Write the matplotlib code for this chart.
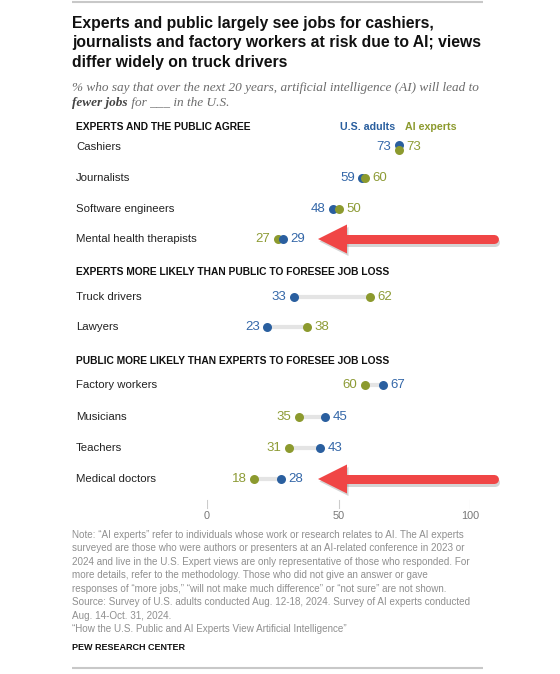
import matplotlib
matplotlib.use("Agg")
import matplotlib.pyplot as plt
from matplotlib.patches import Polygon

# ---------------- data ----------------
sections = [
    "EXPERTS AND THE PUBLIC AGREE",
    "EXPERTS MORE LIKELY THAN PUBLIC TO FORESEE JOB LOSS",
    "PUBLIC MORE LIKELY THAN EXPERTS TO FORESEE JOB LOSS",
]
categories = [
    "Cashiers", "Journalists", "Software engineers", "Mental health therapists",
    "Truck drivers", "Lawyers",
    "Factory workers", "Musicians", "Teachers", "Medical doctors",
]
us_adults = [73, 59, 48, 29, 33, 23, 67, 45, 43, 28]
ai_experts = [73, 60, 50, 27, 62, 38, 60, 35, 31, 18]
x_ticks = [0, 50, 100]
series_names = ["U.S. adults", "AI experts"]
highlighted = ["Mental health therapists", "Medical doctors"]

title_lines = [
    "Experts and public largely see jobs for cashiers,",
    "journalists and factory workers at risk due to AI; views",
    "differ widely on truck drivers",
]
subtitle_1 = "% who say that over the next 20 years, artificial intelligence (AI) will lead to"
subtitle_2a = "fewer jobs"
subtitle_2b = " for ___ in the U.S."
note_lines = [
    "Note: \u201cAI experts\u201d refer to individuals whose work or research relates to AI. The AI experts",
    "surveyed are those who were authors or presenters at an AI-related conference in 2023 or",
    "2024 and live in the U.S. Expert views are only representative of those who responded. For",
    "more details, refer to the methodology. Those who did not give an answer or gave",
    "responses of \u201cmore jobs,\u201d \u201cwill not make much difference\u201d or \u201cnot sure\u201d are not shown.",
    "Source: Survey of U.S. adults conducted Aug. 12-18, 2024. Survey of AI experts conducted",
    "Aug. 14-Oct. 31, 2024.",
    "\u201cHow the U.S. Public and AI Experts View Artificial Intelligence\u201d",
]
source_label = "PEW RESEARCH CENTER"

# ---------------- layout / style ----------------
W, H = 560, 674
BLUE = "#2a5f9f"
GREEN = "#8c9a2e"
BLUE_TXT = "#3467a8"
GREEN_TXT = "#8d9b35"
RED = "#f04646"
SANS = ["Liberation Sans", "DejaVu Sans"]
TITLE_FONT = ["Liberation Sans Narrow", "Liberation Sans", "DejaVu Sans"]
SERIF = ["Liberation Serif", "DejaVu Serif"]

row_y = [147, 178, 209, 239, 297, 327, 385, 417, 448, 479]
section_y = [127, 272, 361]
LEFT = 76

fig = plt.figure(figsize=(W / 100, H / 100), dpi=100)
ov = fig.add_axes([0, 0, 1, 1])
ov.set_xlim(0, W)
ov.set_ylim(H, 0)
ov.axis("off")

ax = fig.add_axes([207 / W, 0, 263 / W, 1])
ax.set_xlim(0, 100)
ax.set_ylim(H, 0)
ax.axis("off")

renderer = fig.canvas.get_renderer()


def width_px(s, size, **kw):
    t = ov.text(0, 0, s, fontsize=size, **kw)
    w = t.get_window_extent(renderer).width
    t.remove()
    return w


def fit(s, target, **kw):
    return 10 * target / width_px(s, 10, **kw)


# ---------------- rules ----------------
ov.plot([72, 483], [2, 2], color="#c8c8c8", lw=1.5, solid_capstyle="butt")
ov.plot([72, 483], [668, 668], color="#c8c8c8", lw=1.5, solid_capstyle="butt")

# ---------------- title ----------------
tkw = dict(family=TITLE_FONT, weight="bold")
tsize = fit(title_lines[1], 408, **tkw)
for i, line in enumerate(title_lines):
    ov.text(72, 28 + i * 19.5, line, fontsize=tsize, color="#111111",
            va="baseline", ha="left", **tkw)

# ---------------- subtitle ----------------
skw = dict(family=SERIF, style="italic")
ssize = fit(subtitle_1, 407, **skw)
ov.text(72, 91, subtitle_1, fontsize=ssize, color="#6b6b6b", va="baseline", **skw)
bkw = dict(family=SERIF, style="italic", weight="bold")
ov.text(72, 106, subtitle_2a, fontsize=ssize, color="#444444", va="baseline", **bkw)
wa = width_px(subtitle_2a, ssize, **bkw)
ov.text(72 + wa, 106, subtitle_2b, fontsize=ssize, color="#6b6b6b", va="baseline", **skw)

# ---------------- section headers & legend ----------------
hkw = dict(family=SANS, weight="bold")
hsize = fit(sections[1], 314, **hkw)
for s, y in zip(sections, section_y):
    ov.text(LEFT, y, s, fontsize=hsize, color="#111111", va="center", **hkw)

lsize = fit(series_names[0], 55, **hkw)
ov.text(340, section_y[0], series_names[0], fontsize=lsize, color=BLUE, va="center", **hkw)
ov.text(405, section_y[0], series_names[1], fontsize=lsize, color=GREEN, va="center", **hkw)

# ---------------- category labels ----------------
ckw = dict(family=SANS)
csize = fit("Mental health therapists", 121, **ckw)
for c, y in zip(categories, row_y):
    ov.text(LEFT, y, c, fontsize=csize, color="#222222", va="center", **ckw)

# ---------------- dumbbells ----------------
vsize = 9.5
for us, ai, y in zip(us_adults, ai_experts, row_y):
    lo, hi = min(us, ai), max(us, ai)
    ax.plot([lo, hi], [y, y], color="#e4e4e4", lw=3, solid_capstyle="butt", zorder=1)
    if us == ai:
        yb, yg = y - 2.5, y + 2.5
    else:
        yb = yg = y
    # right-most dot drawn on top
    if us > ai:
        ax.scatter([ai], [yg], s=42, color=GREEN, zorder=2, linewidths=0)
        ax.scatter([us], [yb], s=42, color=BLUE, zorder=3, linewidths=0)
    else:
        ax.scatter([us], [yb], s=42, color=BLUE, zorder=2, linewidths=0)
        ax.scatter([ai], [yg], s=42, color=GREEN, zorder=3, linewidths=0)
    if us <= ai:
        left_v, left_c, right_v, right_c = us, BLUE_TXT, ai, GREEN_TXT
    else:
        left_v, left_c, right_v, right_c = ai, GREEN_TXT, us, BLUE_TXT
    ax.annotate(str(left_v), (left_v, y), xytext=(-7.5, 0), textcoords="offset pixels",
                ha="right", va="center", fontsize=vsize, color=left_c, family=SANS)
    ax.annotate(str(right_v), (right_v, y), xytext=(7.5, 0), textcoords="offset pixels",
                ha="left", va="center", fontsize=vsize, color=right_c, family=SANS)

# ---------------- axis ticks ----------------
for t in x_ticks:
    ax.plot([t, t], [500, 508], color="#cccccc", lw=0.8)
    ax.text(t, 516, str(t), ha="center", va="center", fontsize=7.8, color="#777777", family=SANS)

# ---------------- red arrows ----------------
def arrow(y):
    tip, base, end = 318, 347, 498
    hh, sh = 14.5, 4.5
    for dx, dy, col, al, z in [(1.5, 2.5, "#555555", 0.25, 4), (0, 0, RED, 1, 5)]:
        ov.add_patch(Polygon([(tip + dx, y + dy), (base + dx, y - hh + dy), (base + dx, y + hh + dy)],
                             closed=True, facecolor=col, edgecolor="none", alpha=al, zorder=z))
        ov.plot([base - 1 + dx, end - sh + dx], [y + dy, y + dy], color=col, alpha=al,
                lw=2 * sh * 0.72, solid_capstyle="round", zorder=z)


for c, y in zip(categories, row_y):
    if c in highlighted:
        arrow(y)

# ---------------- notes ----------------
nkw = dict(family=SANS)
nsize = fit(note_lines[2], 401, **nkw)
for i, line in enumerate(note_lines):
    ov.text(72, 535 + i * 13.43, line, fontsize=nsize, color="#8f8f8f", va="center", **nkw)

psize = fit(source_label, 113, **hkw)
ov.text(72, 648, source_label, fontsize=psize, color="#111111", va="center", **hkw)

fig.savefig("out.png", dpi=100)
